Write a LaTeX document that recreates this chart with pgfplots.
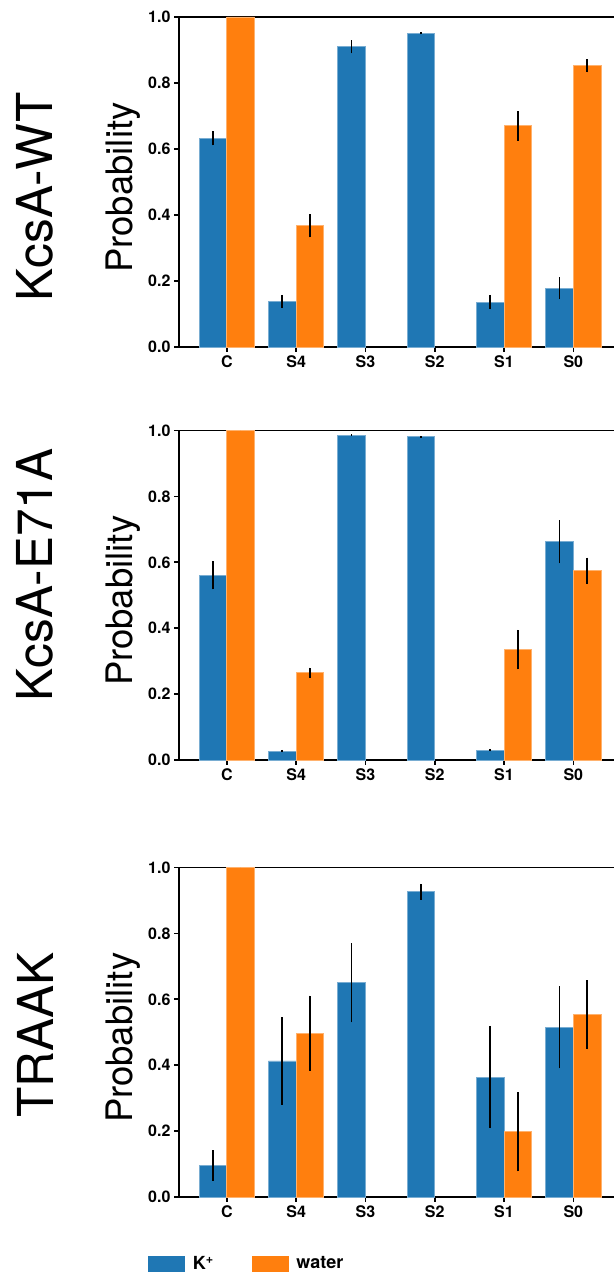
\documentclass[border=0pt]{standalone}
\usepackage{fontspec}
\setmainfont{TeX Gyre Heros}
\usepackage{pgfplots}
\pgfplotsset{compat=1.18}
\usepackage{pgfplotstable}
\definecolor{cK}{HTML}{1F77B4}
\definecolor{cW}{HTML}{FF7F0E}

% x: 0=C 1=S4 2=S3 3=S2 4=S1 5=S0
\pgfplotstableread{
x kv ke wv we
0 0.633 0.022 1.000 0
1 0.138 0.020 0.367 0.035
2 0.910 0.020 nan nan
3 0.950 0.003 nan nan
4 0.136 0.022 0.670 0.045
5 0.178 0.033 0.852 0.020
}\wt
\pgfplotstableread{
x kv ke wv we
0 0.561 0.043 1.000 0
1 0.027 0.004 0.265 0.015
2 0.986 0.003 nan nan
3 0.981 0.003 nan nan
4 0.030 0.004 0.335 0.060
5 0.662 0.065 0.574 0.040
}\ea
\pgfplotstableread{
x kv ke wv we
0 0.096 0.046 1.000 0
1 0.413 0.133 0.497 0.114
2 0.650 0.120 nan nan
3 0.926 0.024 nan nan
4 0.364 0.155 0.198 0.120
5 0.515 0.125 0.553 0.105
}\tr

\pgfplotsset{
 panel/.style={
  scale only axis, width=435pt, height=329.5pt,
  xmin=-0.69, xmax=5.587, ymin=0, ymax=1,
  axis x line=box, axis y line=left,
  axis line style={-, line width=1.6pt, black},
  xtick={0,1,2,3,4,5}, xticklabels={C,S4,S3,S2,S1,S0},
  ytick={0,0.2,0.4,0.6,0.8,1},
  xtick pos=left, ytick pos=left,
  tick align=outside, major tick length=5pt,
  every tick/.style={black, line width=1.6pt},
  tick label style={font=\fontsize{16}{16}\selectfont\bfseries},
  /pgf/number format/assume math mode=true,
  yticklabel style={/pgf/number format/.cd, fixed, fixed zerofill, precision=1},
  ylabel={Probability},
  every axis y label/.style={at={(axis description cs:-0.1287,0.483)}, rotate=90, anchor=center, inner sep=0pt, font=\fontsize{36.5}{36.5}\selectfont},
  ybar, bar width=0.4,
  error bars/y dir=both, error bars/y explicit, error bars/error mark=none,
  error bars/error bar style={line width=1.8pt, black},
  clip=false,
 },
 kplot/.style={fill=cK, draw=cK!60!white, line width=0.8pt, bar shift=-0.2,
   legend image code/.code={\fill[cK] (0pt,-8pt) rectangle (36pt,7pt);}},
 wplot/.style={fill=cW, draw=cW!60!white, line width=0.8pt, bar shift=0.2,
   legend image code/.code={\fill[cW] (0pt,-8pt) rectangle (36pt,7pt);}},
}

\begin{document}
\begin{tikzpicture}
\begin{axis}[panel, at={(179pt,925pt)}, anchor=south west, height=330pt]
\addplot[kplot] table[x=x, y=kv, y error=ke] {\wt};
\addplot[wplot] table[x=x, y=wv, y error=we] {\wt};
\end{axis}

\begin{axis}[panel, at={(179pt,512pt)}, anchor=south west]
\addplot[kplot] table[x=x, y=kv, y error=ke] {\ea};
\addplot[wplot] table[x=x, y=wv, y error=we] {\ea};
\end{axis}

\begin{axis}[panel, at={(179pt,75pt)}, anchor=south west,
  legend columns=2,
  legend style={at={(axis description cs:-0.0713,-0.1793)}, anchor=north west,
    draw=none, fill=none, inner sep=0pt, outer sep=0pt,
    font=\fontsize{18}{18}\selectfont\bfseries,
    /tikz/every odd column/.append style={column sep=8pt},
    /tikz/every even column/.append style={column sep=38pt},
    nodes={inner sep=0pt}}]
\addplot[kplot] table[x=x, y=kv, y error=ke] {\tr};
\addlegendentry{K\textsuperscript{+}}
\addplot[wplot] table[x=x, y=wv, y error=we] {\tr};
\addlegendentry{water}
\end{axis}

\node[rotate=90, anchor=center, inner sep=0pt, font=\fontsize{49.5}{49.5}\selectfont] at (35pt,1075pt) {KcsA-WT};
\node[rotate=90, anchor=center, inner sep=0pt, font=\fontsize{49.5}{49.5}\selectfont] at (35pt,697pt) {KcsA-E71A};
\node[rotate=90, anchor=center, inner sep=0pt, font=\fontsize{49.5}{49.5}\selectfont] at (35pt,237pt) {TRAAK};

\pgfresetboundingbox
\useasboundingbox (0,0) rectangle (614pt,1272pt);
\end{tikzpicture}
\end{document}
